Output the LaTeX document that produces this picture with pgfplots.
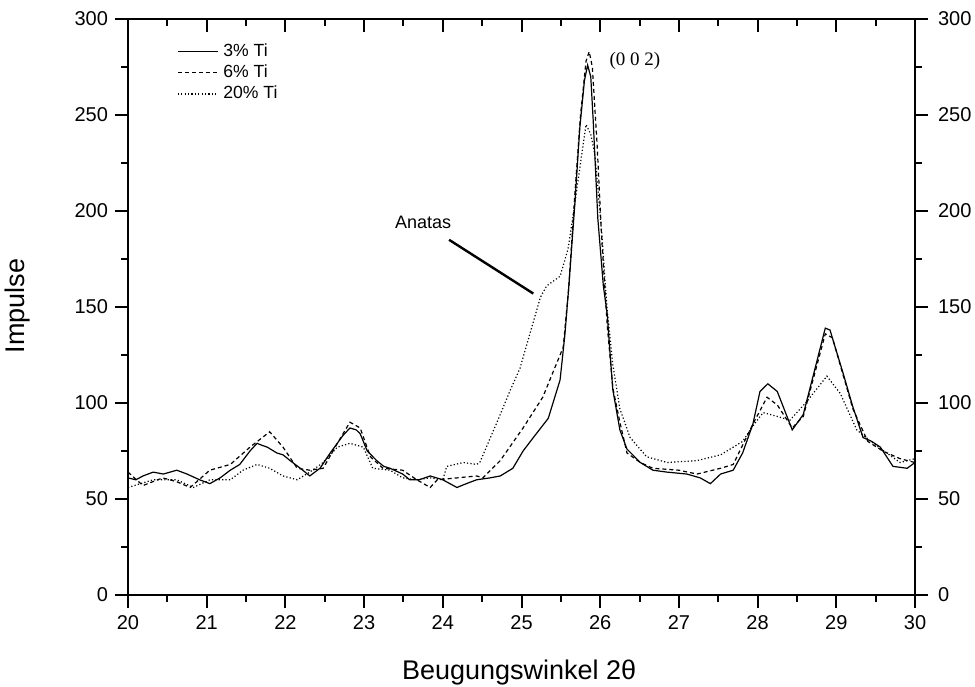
\documentclass[border=0pt]{standalone}
\usepackage{pgfplots}
\pgfplotsset{compat=1.18}
\usepackage{fontspec}
\setmainfont{Liberation Sans}
\newfontfamily\seriffont{Liberation Serif}

\pgfplotstableread{
x y
20.00 61
20.10 60
20.19 62
20.32 64
20.45 63
20.62 65
20.75 63
20.91 60
21.04 58
21.17 61
21.30 65
21.42 68
21.55 75
21.64 79
21.70 78
21.77 77
21.89 74
21.97 73
22.06 70
22.19 66
22.31 62
22.44 66
22.57 74
22.73 83
22.82 87
22.90 86
22.95 84
23.04 75
23.16 70
23.25 67
23.33 66
23.49 63
23.58 60
23.70 60
23.84 62
24.00 60
24.18 56
24.30 58
24.43 60
24.60 61
24.73 62
24.85 65
24.89 66
25.02 75
25.15 82
25.34 92
25.49 112
25.55 135
25.60 160
25.68 205
25.74 243
25.80 268
25.84 276
25.88 270
25.91 248
25.97 196
26.04 161
26.09 146
26.12 129
26.16 107
26.25 86
26.34 76
26.51 69
26.67 65
26.85 64
27.10 63
27.27 61
27.40 58
27.53 63
27.69 65
27.81 74
27.94 89
28.03 106
28.13 110
28.25 106
28.44 86
28.58 94
28.73 118
28.86 139
28.92 138
29.09 115
29.21 98
29.34 82
29.45 80
29.56 77
29.72 67
29.90 66
30.00 69
}\tiA

\pgfplotstableread{
x y
20.00 64
20.19 57
20.44 61
20.62 59
20.79 56
21.04 65
21.30 68
21.55 77
21.80 85
21.97 77
22.15 66
22.31 65
22.48 66
22.66 79
22.82 90
22.95 87
23.08 72
23.24 66
23.49 65
23.67 60
23.84 56
23.93 60
24.18 61
24.43 62
24.51 61
24.73 70
25.02 87
25.27 103
25.53 129
25.60 160
25.68 210
25.75 250
25.82 278
25.86 283
25.90 275
25.96 235
26.02 185
26.09 140
26.16 108
26.25 90
26.34 74
26.51 69
26.67 66
27.00 65
27.23 63
27.53 66
27.69 68
27.94 89
28.12 103
28.25 99
28.44 87
28.58 93
28.73 116
28.86 136
28.95 134
29.21 97
29.40 80
29.59 75
29.81 71
30.00 69
}\tiB

\pgfplotstableread{
x y
20.00 56
20.32 60
20.62 60
20.83 56
21.04 60
21.30 60
21.46 65
21.64 68
21.80 66
21.97 62
22.15 60
22.31 64
22.48 69
22.66 77
22.82 79
22.99 77
23.11 66
23.33 65
23.49 61
23.67 60
23.84 61
24.00 60
24.05 67
24.26 69
24.43 68
24.47 69
24.73 94
24.85 106
24.98 118
25.24 155
25.32 161
25.49 166
25.59 180
25.65 196
25.75 225
25.82 245
25.88 240
25.93 230
25.96 217
26.02 188
26.09 148
26.16 120
26.25 97
26.38 82
26.59 72
26.85 69
27.23 70
27.53 73
27.81 80
27.94 88
28.07 95
28.25 93
28.41 91
28.63 101
28.88 114
29.05 105
29.26 86
29.47 79
29.81 69
30.00 71
}\tiC

\pgfplotsset{
  common/.style={
    at={(64pt,45.5pt)}, anchor=south west,
    width=393.5pt, height=288pt, scale only axis,
    xmin=20, xmax=30, ymin=0, ymax=300,
    axis line style={line width=1.1pt},
    major tick length=6.5pt, minor tick length=3.5pt,
    every tick/.style={line width=1pt, black},
    minor x tick num=1, minor y tick num=1,
    xtick={20,...,30}, ytick={0,50,...,300},
    tick label style={font=\fontsize{10}{12}\selectfont},
    /pgf/number format/assume math mode=true,
  }
}

\begin{document}
\begin{tikzpicture}
\path[use as bounding box] (0,0) rectangle (487.5pt,343pt);

% top ticks inward
\begin{axis}[common, axis x line*=top, axis y line=none,
  tick align=inside, xticklabels=\empty]
\end{axis}

% right axis
\begin{axis}[common, axis y line*=right, axis x line=none,
  tick align=outside,
  yticklabel style={anchor=west, xshift=1.5pt}]
\end{axis}

\begin{axis}[common,
  xtick pos=left, ytick pos=left, tick align=outside,
  xlabel={Beugungswinkel 2θ},
  ylabel={Impulse},
  label style={font=\fontsize{13.5}{16}\selectfont},
  xlabel style={at={(axis description cs:0.497,0)}, anchor=base, yshift=-42pt},
  ylabel style={at={(axis description cs:-0.131,0.502)}, anchor=base},
  legend style={draw=none, fill=none, at={(rel axis cs:0.062,0.962)}, anchor=north west,
    font=\fontsize{8.8}{10}\selectfont, inner sep=0pt, row sep=0.3pt,
    nodes={inner sep=1pt, text height=6.5pt, text depth=1.8pt},
    /tikz/every odd column/.append style={column sep=1.5pt}},
  legend cell align=left,
  legend image code/.code={\draw[#1] (0pt,0pt) -- (20pt,0pt);},
]
\addplot[black, line width=0.6pt] table[x=x,y=y] {\tiA};
\addlegendentry{3\% Ti}
\addplot[black, line width=0.6pt, dash pattern=on 2pt off 1.5pt] table[x=x,y=y] {\tiB};
\addlegendentry{6\% Ti}
\addplot[black, line width=0.6pt, dash pattern=on 0.6pt off 1.1pt] table[x=x,y=y] {\tiC};
\addlegendentry{20\% Ti}

\node[font=\fontsize{9}{11}\selectfont] at (axis cs:23.75,194) {Anatas};
\draw[line width=1.2pt] (axis cs:24.08,185) -- (axis cs:25.15,157);
\node[font=\seriffont\fontsize{9.5}{11}\selectfont] at (axis cs:26.44,278) {(0 0 2)};
\end{axis}
\end{tikzpicture}
\end{document}
